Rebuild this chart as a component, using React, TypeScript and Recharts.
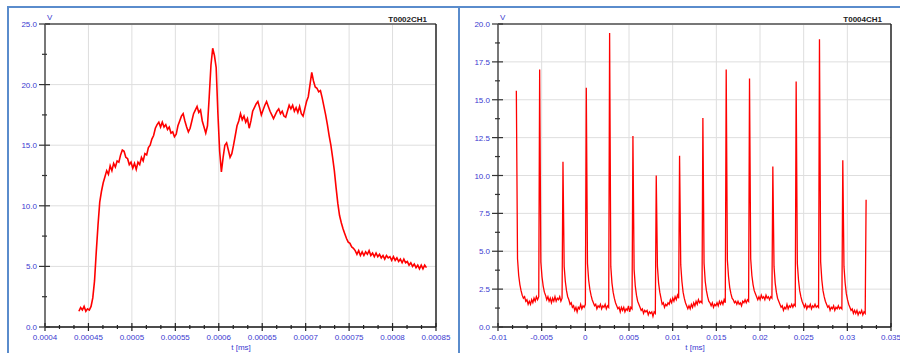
import React from 'react';
import { LineChart, Line, XAxis, YAxis, ReferenceLine } from 'recharts';

const FONT = '"Liberation Sans", Arial, sans-serif';
const BLUE = '#3a3ad0';
const RED = '#ff0000';
const GRID = '#dedede';
const FRAME = '#5a8ccc';

// T0002CH1: one sample every 0.000002 ms, starting at 0.000439
const leftStart = 0.000439;
const leftStep = 0.000002;
const leftValues = [
  1.3, 1.6, 1.4, 1.7, 1.3, 1.5, 1.4, 1.7, 2.4, 3.8,
  6.2, 8.4, 10.3, 11.2, 11.9, 12.4, 12.9, 12.6, 13.3, 12.9,
  13.5, 13.2, 13.7, 13.6, 14.2, 14.6, 14.5, 14.0, 13.9, 13.4,
  13.6, 13.1, 13.5, 13.0, 13.6, 13.4, 14.0, 13.7, 14.3, 14.2,
  14.8, 15.0, 15.5, 15.8, 16.4, 16.7, 16.9, 16.5, 16.9, 16.5,
  16.7, 16.3, 16.5, 16.0, 16.1, 15.7, 15.9, 16.6, 17.0, 17.4,
  17.6, 17.0, 16.5, 16.1, 16.4, 17.0, 17.6, 17.9, 18.2, 17.7,
  17.9, 17.0, 16.5, 16.0, 16.6, 19.0, 21.6, 23.0, 22.4, 21.4,
  17.6, 14.5, 12.8, 14.0, 15.0, 15.2, 14.6, 14.0, 14.3, 15.0,
  15.8, 16.6, 17.0, 17.6, 17.1, 17.4, 16.9, 17.2, 16.4, 17.0,
  17.8, 18.1, 18.4, 18.6, 18.1, 17.5, 17.9, 18.3, 18.6, 18.2,
  17.8, 17.5, 17.2, 17.5, 17.8, 18.0, 17.6, 17.8, 17.4, 17.3,
  17.8, 18.3, 18.0, 18.3, 17.8, 18.1, 17.7, 18.2, 17.6, 17.4,
  18.0, 18.6, 19.0, 20.0, 21.0, 20.3, 19.8, 19.7, 19.4, 19.5,
  18.9, 18.2, 17.5, 16.7, 15.8, 15.0, 14.0, 12.9, 11.5, 10.2,
  9.2, 8.6, 8.1, 7.7, 7.3, 7.0, 6.9, 6.6, 6.5, 6.3,
  6.0, 6.3, 5.9, 6.2, 5.9, 6.2, 6.0, 6.3, 5.9, 6.1,
  5.8, 6.1, 5.8, 6.0, 5.7, 5.9, 5.6, 5.9, 5.7, 5.8,
  5.5, 5.8, 5.5, 5.7, 5.4, 5.6, 5.3, 5.6, 5.3, 5.4,
  5.1, 5.3, 5.0, 5.2, 4.9, 5.1, 4.8, 5.1, 4.8, 5.1,
  4.9,
];

const leftXTicks = [0.0004, 0.00045, 0.0005, 0.00055, 0.0006, 0.00065, 0.0007, 0.00075, 0.0008, 0.00085];
const leftXLabels = ['0.0004', '0.00045', '0.0005', '0.00055', '0.0006', '0.00065', '0.0007', '0.00075', '0.0008', '0.00085'];
const leftYTicks = [0, 5, 10, 15, 20, 25];
const leftYLabels = ['0.0', '5.0', '10.0', '15.0', '20.0', '25.0'];

// T0004CH1: spike times and peaks, then the decay after each spike
const rightSpikeTimes = [
  -0.0079, -0.00523, -0.00256, 0.00011, 0.00278, 0.00545, 0.00812, 0.01079,
  0.01346, 0.01613, 0.0188, 0.02147, 0.02414, 0.02681, 0.02948, 0.03215,
];
const rightSpikePeaks = [15.6, 17.0, 10.9, 15.8, 19.4, 12.6, 10.0, 11.3, 13.8, 17.0, 16.4, 10.6, 16.2, 19.0, 11.0, 8.4];
const rightTailStep = 0.000135;
const rightTails = [
  [4.5, 3.4, 2.8, 2.4, 2.1, 1.9, 2.0, 1.7, 1.8, 1.5, 1.7, 1.5, 1.8, 1.6, 1.9, 1.7, 2.0, 1.8, 2.0],
  [4.3, 3.3, 2.7, 2.3, 2.1, 1.8, 2.0, 1.7, 1.9, 1.6, 1.9, 1.7, 2.0, 1.7, 1.9, 1.8, 2.0, 1.7, 1.9],
  [4.0, 3.0, 2.4, 2.0, 1.8, 1.5, 1.6, 1.3, 1.4, 1.1, 1.3, 1.0, 1.3, 1.2, 1.5, 1.2, 1.4, 1.3, 1.5],
  [4.2, 3.1, 2.5, 2.1, 1.8, 1.6, 1.4, 1.5, 1.2, 1.4, 1.3, 1.5, 1.2, 1.4, 1.3, 1.5, 1.2, 1.4, 1.3],
  [4.0, 2.9, 2.3, 1.9, 1.6, 1.4, 1.2, 1.3, 1.0, 1.3, 1.1, 1.3, 1.0, 1.2, 1.1, 1.4, 1.0, 1.3, 1.2],
  [3.8, 2.7, 2.1, 1.7, 1.5, 1.3, 1.1, 1.2, 0.9, 1.1, 1.0, 1.1, 0.8, 1.0, 0.9, 1.0, 0.7, 1.0, 0.9],
  [4.0, 2.9, 2.3, 1.9, 1.5, 1.6, 1.3, 1.5, 1.4, 1.6, 1.5, 1.8, 1.6, 1.9, 1.7, 2.0, 1.8, 2.1, 1.9],
  [4.1, 3.0, 2.3, 1.9, 1.6, 1.4, 1.2, 1.4, 1.2, 1.5, 1.3, 1.6, 1.4, 1.7, 1.5, 1.8, 1.6, 1.7, 1.6],
  [4.2, 3.0, 2.4, 2.0, 1.7, 1.6, 1.4, 1.6, 1.3, 1.5, 1.4, 1.6, 1.4, 1.7, 1.5, 1.7, 1.5, 1.8, 1.6],
  [4.4, 3.3, 2.6, 2.2, 1.9, 1.8, 1.6, 1.7, 1.5, 1.7, 1.5, 1.6, 1.4, 1.7, 1.6, 1.8, 1.6, 1.8, 1.7],
  [4.5, 3.4, 2.8, 2.4, 2.2, 2.0, 1.8, 2.0, 1.8, 2.1, 1.9, 2.0, 1.8, 2.1, 1.9, 2.0, 1.8, 2.0, 1.9],
  [4.0, 2.9, 2.3, 1.9, 1.7, 1.5, 1.3, 1.4, 1.1, 1.3, 1.2, 1.5, 1.2, 1.4, 1.3, 1.5, 1.3, 1.5, 1.4],
  [4.2, 3.1, 2.4, 2.0, 1.7, 1.5, 1.3, 1.5, 1.2, 1.4, 1.3, 1.5, 1.2, 1.4, 1.3, 1.5, 1.3, 1.4, 1.3],
  [4.3, 3.1, 2.4, 2.0, 1.7, 1.5, 1.3, 1.4, 1.1, 1.3, 1.2, 1.4, 1.1, 1.3, 1.2, 1.4, 1.2, 1.3, 1.2],
  [4.0, 2.9, 2.2, 1.8, 1.5, 1.3, 1.1, 1.2, 0.9, 1.1, 0.9, 1.1, 0.8, 1.0, 0.9, 1.1, 0.8, 1.0, 0.9],
  [],
];

const rightXTicks = [-0.01, -0.005, 0, 0.005, 0.01, 0.015, 0.02, 0.025, 0.03, 0.035];
const rightXLabels = ['-0.01', '-0.005', '0', '0.005', '0.01', '0.015', '0.02', '0.025', '0.03', '0.035'];
const rightYTicks = [0, 2.5, 5, 7.5, 10, 12.5, 15, 17.5, 20];
const rightYLabels = ['0.0', '2.5', '5.0', '7.5', '10.0', '12.5', '15.0', '17.5', '20.0'];

const leftData = leftValues.map((v, i) => ({ t: leftStart + i * leftStep, v }));

const rightData: { t: number; v: number }[] = [];
rightSpikeTimes.forEach((t0, k) => {
  rightData.push({ t: t0, v: rightSpikePeaks[k] });
  rightTails[k].forEach((v, j) => rightData.push({ t: t0 + (j + 1) * rightTailStep, v }));
});

// majors plus (per - 1) minor ticks between each pair
function withMinor(majors: number[], per: number) {
  const out: number[] = [];
  majors.forEach((m, i) => {
    out.push(m);
    if (i < majors.length - 1) {
      const d = (majors[i + 1] - m) / per;
      for (let k = 1; k < per; k++) out.push(m + k * d);
    }
  });
  return out;
}

const makeXTick = (labels: string[], per: number) => (props: any) => {
  const { x, y, index } = props;
  const major = index % per === 0;
  return (
    <g>
      <line x1={x} x2={x} y1={major ? y - 4 : y - 2} y2={major ? y + 4 : y + 2} stroke="#222" strokeWidth={1.2} />
      {major && (
        <text x={x} y={y + 13} textAnchor="middle" fill={BLUE} fontSize={8} fontFamily={FONT}>
          {labels[index / per]}
        </text>
      )}
    </g>
  );
};

const makeYTick = (labels: string[], per: number) => (props: any) => {
  const { x, y, index } = props;
  const major = index % per === 0;
  return (
    <g>
      <line x1={major ? x - 6 : x - 3} x2={major ? x + 5 : x + 2} y1={y} y2={y} stroke="#333" strokeWidth={1.2} />
      {major && (
        <text x={x - 8} y={y + 3} textAnchor="end" fill={BLUE} fontSize={8} fontFamily={FONT}>
          {labels[index / per]}
        </text>
      )}
    </g>
  );
};

interface ScopeProps {
  data: { t: number; v: number }[];
  width: number;
  yWidth: number;
  right: number;
  stroke: number;
  xTicks: number[];
  xLabels: string[];
  yTicks: number[];
  yLabels: string[];
}

function Scope({ data, width, yWidth, right, stroke, xTicks, xLabels, yTicks, yLabels }: ScopeProps) {
  const xMin = xTicks[0];
  const xMax = xTicks[xTicks.length - 1];
  const yMax = yTicks[yTicks.length - 1];
  return (
    <LineChart width={width} height={353} data={data} margin={{ top: 24, right, bottom: 0, left: 0 }}>
      <XAxis
        dataKey="t"
        type="number"
        domain={[xMin, xMax]}
        allowDataOverflow
        ticks={withMinor(xTicks, 3)}
        interval={0}
        tickSize={0}
        tickMargin={0}
        tickLine={false}
        tick={makeXTick(xLabels, 3)}
        axisLine={{ stroke: '#111', strokeWidth: 1.5 }}
        height={26}
      />
      <YAxis
        type="number"
        domain={[0, yMax]}
        allowDataOverflow
        ticks={withMinor(yTicks, 2)}
        interval={0}
        tickSize={0}
        tickMargin={0}
        tickLine={false}
        tick={makeYTick(yLabels, 2)}
        axisLine={{ stroke: '#777', strokeWidth: 2 }}
        width={yWidth}
      />
      {xTicks.slice(1, -1).map((t) => (
        <ReferenceLine key={'gx' + t} x={t} stroke={GRID} strokeWidth={1} ifOverflow="visible" />
      ))}
      {yTicks.slice(1, -1).map((v) => (
        <ReferenceLine key={'gy' + v} y={v} stroke={GRID} strokeWidth={1} ifOverflow="visible" />
      ))}
      <ReferenceLine y={yMax} stroke="#777" strokeWidth={2} ifOverflow="visible" />
      <ReferenceLine x={xMax} stroke="#222" strokeWidth={1.5} ifOverflow="visible" />
      <Line type="linear" dataKey="v" stroke={RED} strokeWidth={stroke} dot={false} isAnimationActive={false} />
    </LineChart>
  );
}

export default function App() {
  return (
    <div style={{ position: 'absolute', left: 0, top: 0, width: 900, height: 353, background: '#fff', overflow: 'hidden' }}>
      <div style={{ position: 'absolute', left: 7, top: 6, width: 900, height: 400, borderLeft: `2px solid ${FRAME}`, borderTop: `2px solid ${FRAME}` }} />
      <div style={{ position: 'absolute', left: 458, top: 6, width: 2, height: 360, background: FRAME }} />
      <div style={{ position: 'absolute', left: 0, top: 0 }}>
        <Scope data={leftData} width={459} yWidth={45} right={23} stroke={1.6} xTicks={leftXTicks} xLabels={leftXLabels} yTicks={leftYTicks} yLabels={leftYLabels} />
      </div>
      <div style={{ position: 'absolute', left: 459, top: 0 }}>
        <Scope data={rightData} width={441} yWidth={39} right={9} stroke={1.3} xTicks={rightXTicks} xLabels={rightXLabels} yTicks={rightYTicks} yLabels={rightYLabels} />
      </div>
      <svg width={900} height={353} style={{ position: 'absolute', left: 0, top: 0, pointerEvents: 'none' }} fontFamily={FONT}>
        <text x={47} y={20} fontSize={8} fill={BLUE}>V</text>
        <text x={427} y={22} fontSize={8} fontWeight="bold" fill="#222" textAnchor="end">T0002CH1</text>
        <text x={241} y={350} fontSize={8} fill={BLUE} textAnchor="middle">t [ms]</text>
        <text x={500} y={20} fontSize={8} fill={BLUE}>V</text>
        <text x={882} y={22} fontSize={8} fontWeight="bold" fill="#222" textAnchor="end">T0004CH1</text>
        <text x={695} y={350} fontSize={8} fill={BLUE} textAnchor="middle">t [ms]</text>
      </svg>
    </div>
  );
}
